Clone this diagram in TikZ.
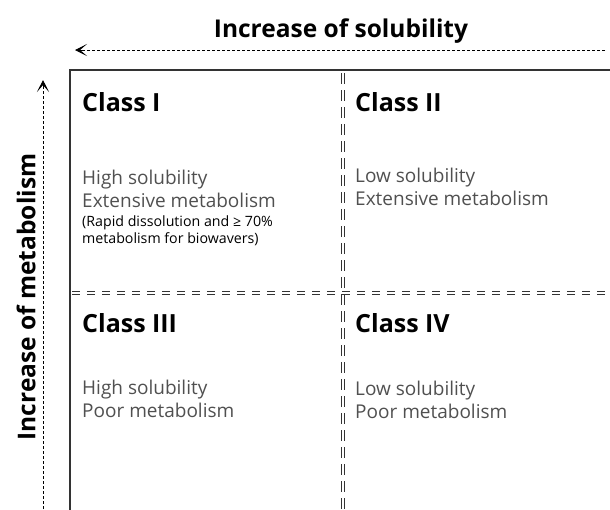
\documentclass[tikz,border=0pt]{standalone}
\usepackage{fontspec}
\setmainfont{Open Sans}
\usetikzlibrary{arrows.meta}
\definecolor{txtgray}{HTML}{505050}
\tikzset{
  classlbl/.style={anchor=base west, inner sep=0pt, font=\fontsize{25}{28}\selectfont\bfseries, text=black},
  desc/.style={anchor=base west, inner sep=0pt, font=\fontsize{19}{23}\selectfont, text=txtgray, align=left},
  smalldesc/.style={anchor=base west, inner sep=0pt, font=\fontsize{14.2}{16}\selectfont, text=black, align=left},
  axislbl/.style={inner sep=0pt, font=\fontsize{24.5}{28}\selectfont\bfseries},
  axisline/.style={densely dashed, line width=0.8pt},
  axistip/.style={solid, line width=0.8pt, -{Stealth[length=12pt,width=12pt,inset=7pt]}},
  frame/.style={line width=1.2pt, draw=black!80},
  hdivider/.style={line width=1.2pt, draw=black!80, dash pattern=on 8pt off 7pt},
  vdivider/.style={line width=1.2pt, draw=black!80, dash pattern=on 11pt off 6pt}
}
\begin{document}
\begin{tikzpicture}[x=1pt,y=-1pt]
\useasboundingbox (0,0) rectangle (610,509);
% axes
\coordinate (hs) at (605,50);
\coordinate (he) at (75,50);
\draw[axisline] (hs) -- ([xshift=4pt]he);
\draw[axistip] ([xshift=8pt]he) -- (he);
\coordinate (vs) at (43,509);
\coordinate (ve) at (43,80);
\draw[axisline] (vs) -- ([yshift=-4pt]ve);
\draw[axistip] ([yshift=-8pt]ve) -- (ve);
\node[axislbl] (tsol) at (341,31) {Increase of solubility};
\node[axislbl, rotate=90] (tmet) at (26,297) {Increase of metabolism};
% frame
\coordinate (ftr) at (611,70);
\coordinate (ftl) at (70,70);
\coordinate (fbl) at (70,510);
\draw[frame] (ftr) -- (ftl) -- (fbl);
% dividers (double dashed)
\coordinate (vt) at (343,73);
\coordinate (vb) at (343,510);
\draw[vdivider] ([xshift=-1.6pt]vt) -- ([xshift=-1.6pt]vb);
\draw[vdivider] ([xshift=1.6pt]vt) -- ([xshift=1.6pt]vb);
\coordinate (hl) at (72,293);
\coordinate (hr) at (611,293);
\draw[hdivider] ([yshift=-1.6pt]hl) -- ([yshift=-1.6pt]hr);
\draw[hdivider] ([yshift=1.6pt]hl) -- ([yshift=1.6pt]hr);
% class I
\node[classlbl] (c1) at (82,111) {Class I};
\node[desc] (d1a) at (82,184) {High solubility};
\node[desc] (d1b) at (82,207) {Extensive metabolism};
\node[smalldesc] (d1c) at (82,226) {(Rapid dissolution and ≥ 70\%};
\node[smalldesc] (d1d) at (82,243) {metabolism for biowavers)};
% class II
\node[classlbl] (c2) at (355,111) {Class II};
\node[desc] (d2a) at (355,182) {Low solubility};
\node[desc] (d2b) at (355,205) {Extensive metabolism};
% class III
\node[classlbl] (c3) at (82,332) {Class III};
\node[desc] (d3a) at (82,394) {High solubility};
\node[desc] (d3b) at (82,417) {Poor metabolism};
% class IV
\node[classlbl] (c4) at (355,332) {Class IV};
\node[desc] (d4a) at (355,395) {Low solubility};
\node[desc] (d4b) at (355,418) {Poor metabolism};
\end{tikzpicture}
\end{document}
